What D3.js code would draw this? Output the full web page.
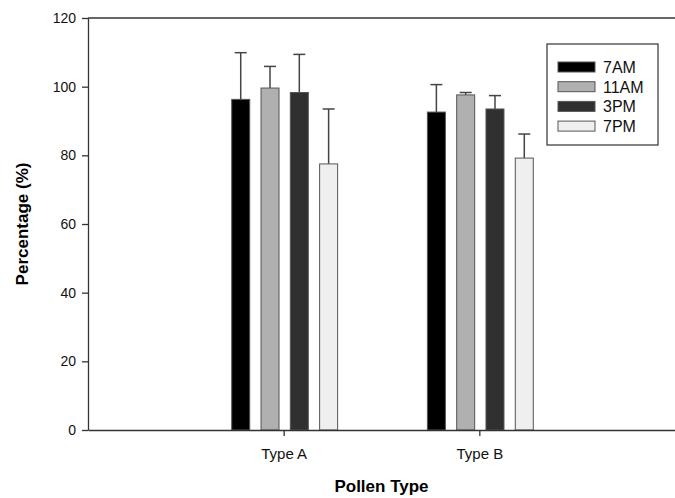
<!DOCTYPE html>
<html>
<head>
<meta charset="utf-8">
<script src="https://cdn.jsdelivr.net/npm/d3@7"></script>
<style>
  body { margin: 0; background: #fff; }
  svg { font-family: Arial, "Liberation Sans", sans-serif; }
  .axis path, .axis line { stroke: #333; stroke-width: 1.3; }
  .axis text { font-size: 14px; fill: #111; }
  .xaxis text { font-size: 15px; }
</style>
</head>
<body>
<script>
const width = 675;
const height = 498;

// data
const categories = ["Type A", "Type B"];
const times = ["7AM", "11AM", "3PM", "7PM"];
const means = {
  "7AM":  [96.3, 92.6],
  "11AM": [99.6, 97.6],
  "3PM":  [98.3, 93.5],
  "7PM":  [77.5, 79.2]
};
const errors = {
  "7AM":  [13.6, 8.0],
  "11AM": [6.3, 0.7],
  "3PM":  [11.1, 3.9],
  "7PM":  [16.0, 7.0]
};
const yTicks = [0, 20, 40, 60, 80, 100, 120];
const colors = ["#000000", "#b0b0b0", "#303030", "#efefef"];

const padding = {left: 88, right: 0, top: 18, bottom: 68};

const svg = d3.select("body")
  .append("svg")
  .attr("width", width)
  .attr("height", height);

const plotW = width - padding.left - padding.right;
const plotH = height - padding.top - padding.bottom;

// categories sit at 1 and 2 on a 0..3 axis
const xScale = d3.scaleLinear()
  .domain([0, 3])
  .range([0, plotW]);

const yScale = d3.scaleLinear()
  .domain([0, 120])
  .range([plotH, 0]);

const barW = 18;
const step = 29.3;

const g = svg.append("g")
  .attr("transform", "translate(" + padding.left + "," + padding.top + ")");

const rows = [];
times.forEach((t, i) => {
  categories.forEach((c, j) => {
    rows.push({time: t, idx: i, cat: j, v: means[t][j], e: errors[t][j]});
  });
});

const bx = (d) => xScale(d.cat + 1) + (d.idx - 1.5) * step - barW / 2 + 1;

// error bars first (upper only)
const err = g.selectAll(".err").data(rows).enter().append("g").attr("class", "err");
err.append("line")
  .attr("x1", (d) => bx(d) + barW / 2)
  .attr("x2", (d) => bx(d) + barW / 2)
  .attr("y1", (d) => yScale(d.v))
  .attr("y2", (d) => yScale(d.v + d.e))
  .attr("stroke", "#444")
  .attr("stroke-width", 1.5);
err.append("line")
  .attr("x1", (d) => bx(d) + barW / 2 - 6)
  .attr("x2", (d) => bx(d) + barW / 2 + 6)
  .attr("y1", (d) => yScale(d.v + d.e))
  .attr("y2", (d) => yScale(d.v + d.e))
  .attr("stroke", "#444")
  .attr("stroke-width", 1.5);

g.selectAll(".bar").data(rows).enter().append("rect")
  .attr("class", "bar")
  .attr("x", bx)
  .attr("y", (d) => yScale(d.v))
  .attr("width", barW)
  .attr("height", (d) => yScale(0) - yScale(d.v))
  .attr("fill", (d) => colors[d.idx])
  .attr("stroke", "#555")
  .attr("stroke-width", 1);

// top frame line
g.append("line")
  .attr("x1", 0).attr("x2", plotW)
  .attr("y1", 0).attr("y2", 0)
  .attr("stroke", "#333").attr("stroke-width", 1.3);

const yAxis = d3.axisLeft(yScale).tickValues(yTicks).tickSize(6).tickSizeOuter(0).tickPadding(6);
g.append("g").attr("class", "axis").call(yAxis);

const xAxis = d3.axisBottom(xScale)
  .tickValues([1, 2])
  .tickFormat((d) => categories[d - 1])
  .tickSize(6).tickSizeOuter(0).tickPadding(12);
g.append("g")
  .attr("class", "axis xaxis")
  .attr("transform", "translate(0," + plotH + ")")
  .call(xAxis);

svg.append("text")
  .attr("transform", "translate(" + (padding.left + plotW / 2) + "," + 492 + ")")
  .style("text-anchor", "middle")
  .style("font-size", "17px")
  .style("font-weight", "bold")
  .text("Pollen Type");

svg.append("text")
  .attr("transform", "translate(28," + (padding.top + plotH / 2) + ") rotate(-90)")
  .style("text-anchor", "middle")
  .style("font-size", "17px")
  .style("font-weight", "bold")
  .text("Percentage (%)");

// legend
const legend = svg.append("g").attr("transform", "translate(547,44)");
legend.append("rect")
  .attr("width", 111).attr("height", 101)
  .attr("fill", "#fff").attr("stroke", "#333").attr("stroke-width", 1.2);
const li = legend.selectAll(".li").data(times).enter().append("g")
  .attr("transform", (d, i) => "translate(11," + (18 + i * 19.7) + ")");
li.append("rect")
  .attr("width", 37).attr("height", 10)
  .attr("fill", (d, i) => colors[i])
  .attr("stroke", "#555").attr("stroke-width", 1);
li.append("text")
  .attr("x", 45).attr("y", 11)
  .style("font-size", "16px")
  .style("fill", "#111")
  .text((d) => d);
</script>
</body>
</html>
